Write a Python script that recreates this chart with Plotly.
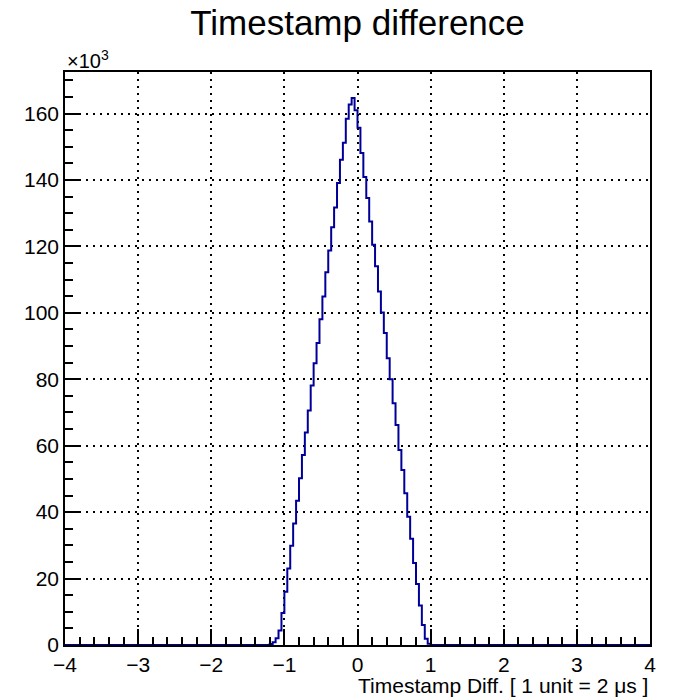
import plotly.graph_objects as go

# Histogram: 200 bins of width 0.04 over [-4, 4]; only non-empty bins listed (values in thousands)
x_min, x_max, bin_width = -4.0, 4.0, 0.04
first_bin_low = -1.20
counts_k = [
    0.3, 0.8, 2.0, 4.4, 9.6, 16.0, 23.0, 29.9, 36.6, 43.4,
    50.2, 57.2, 64.0, 70.6, 78.1, 84.8, 90.9, 98.1, 104.9, 112.2,
    118.8, 125.8, 131.7, 139.1, 146.1, 151.2, 158.4, 162.7, 164.7, 161.0,
    155.7, 148.1, 140.9, 134.6, 127.5, 120.5, 114.0, 106.4, 100.1, 93.9,
    86.3, 80.0, 72.8, 66.2, 58.7, 52.7, 45.7, 38.6, 32.0, 24.7,
    18.4, 11.9, 6.0, 1.9, 0.4,
]
x_tick_vals = [-4, -3, -2, -1, 0, 1, 2, 3, 4]
y_tick_vals = [0, 20, 40, 60, 80, 100, 120, 140, 160]

n_bins = int(round((x_max - x_min) / bin_width))
start = int(round((first_bin_low - x_min) / bin_width))
full = [0.0] * n_bins
for i, c in enumerate(counts_k):
    full[start + i] = c
edges = [x_min + i * bin_width for i in range(n_bins + 1)]
ys = full + [full[-1]]

FONT = "Liberation Sans, Arial, Helvetica, sans-serif"

fig = go.Figure()
fig.add_trace(go.Scatter(
    x=edges, y=ys, mode="lines", line_shape="hv",
    line=dict(color="#000099", width=2), hoverinfo="skip", showlegend=False,
))

fig.update_layout(
    width=676, height=697,
    margin=dict(l=65, r=26, t=72, b=52),
    paper_bgcolor="white", plot_bgcolor="white",
    font=dict(family=FONT, color="black", size=21),
    title=dict(text="Timestamp difference", x=0.5, xref="paper", xanchor="center",
               y=1 - 23 / 697, yanchor="middle",
               font=dict(family=FONT, size=35, color="black")),
)

grid_common = dict(showgrid=True, gridcolor="black", gridwidth=1.5, griddash="2px,5px",
                   showline=True, linecolor="black", linewidth=1.5, mirror=True,
                   ticks="inside", ticklen=16, tickwidth=1.5, tickcolor="black",
                   zeroline=False, tickfont=dict(family=FONT, size=21, color="black"))

fig.update_xaxes(range=[x_min, x_max], tickvals=x_tick_vals,
                 minor=dict(ticks="inside", ticklen=8, tickwidth=1.5, tickcolor="black",
                            dtick=0.2, showgrid=False),
                 **grid_common)
fig.update_yaxes(range=[0, 172.5], tickvals=y_tick_vals,
                 minor=dict(ticks="inside", ticklen=8, tickwidth=1.5, tickcolor="black",
                            dtick=5, showgrid=False),
                 **grid_common)

fig.add_annotation(text="×10<sup>3</sup>", xref="paper", yref="paper", x=0, y=1,
                   xanchor="left", yanchor="bottom", yshift=-2, showarrow=False,
                   font=dict(family=FONT, size=20, color="black"))
fig.add_annotation(text="Timestamp Diff. [ 1 unit = 2 μs ]", xref="paper", yref="paper",
                   x=1, y=-40 / 573, xanchor="right", yanchor="middle", showarrow=False,
                   font=dict(family=FONT, size=21, color="black"))

fig.write_html("out.html")
